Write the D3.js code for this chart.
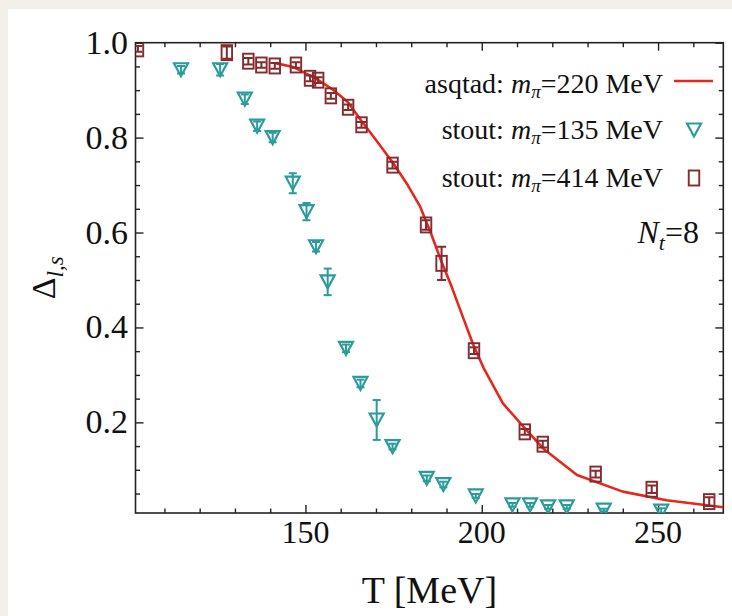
<!DOCTYPE html>
<html><head><meta charset="utf-8">
<script src="https://cdn.jsdelivr.net/npm/d3@7"></script>
<style>
html,body{margin:0;padding:0;background:#f3f0ea;}
svg{display:block;}
</style></head>
<body>
<svg id="chart" width="732" height="616"></svg>
<script>
// ---- data ----
const asqtadT = [141.5,146.5,153.5,158,162,166,170,175,179,182.5,185.5,188.5,191.5,194.5,197.5,200.5,206,211.8,217.4,227,240,252.4,268.5];
const asqtadV = [0.957,0.949,0.922,0.900,0.875,0.834,0.795,0.745,0.70,0.655,0.60,0.54,0.485,0.425,0.365,0.315,0.240,0.191,0.145,0.089,0.054,0.036,0.021];

const stout135T   = [114.7,125.8,132.8,136.3,140.7,146.4,150.3,153.0,156.3,161.5,165.6,170.2,174.7,184.4,189.1,198.3,208.7,213.7,218.8,224.1,234.6,250.9];
const stout135V   = [0.943,0.943,0.881,0.824,0.800,0.704,0.644,0.570,0.496,0.356,0.282,0.205,0.149,0.082,0.069,0.045,0.026,0.026,0.022,0.022,0.015,0.013];
const stout135Err = [0.008,0.012,0.010,0.010,0.010,0.021,0.018,0.010,0.028,0.008,0.008,0.042,0.006,0.006,0.006,0.004,0.004,0.004,0.004,0.004,0.003,0.006];

const stout414T   = [102.5,127.7,133.8,137.5,141.3,147.3,151.3,153.6,157.2,162.1,165.9,174.7,184.2,188.6,197.8,212.2,217.3,232.3,248.2,264.5];
const stout414V   = [0.987,0.979,0.961,0.953,0.951,0.953,0.925,0.921,0.888,0.864,0.827,0.742,0.616,0.535,0.351,0.180,0.154,0.091,0.059,0.033];
const stout414Err = [0.006,0.013,0.007,0.006,0.006,0.006,0.006,0.006,0.006,0.006,0.006,0.007,0.010,0.035,0.007,0.006,0.007,0.007,0.008,0.009];

const xTicks = [150,200,250];
const yTicks = [0.2,0.4,0.6,0.8,1.0];
const xMinor = d3.range(110,270,10);
const yMinor = d3.range(0.05,1.0001,0.05);

const legendLabels = [["asqtad: ","220 MeV"],["stout: ","135 MeV"],["stout: ","414 MeV"]];

// ---- layout ----
const W = 732, H = 616;
const L = 135.5, R = 723.3, T = 42.7, B = 513;
const FONT = "'Liberation Serif','Times New Roman',serif";
const RED = "#e5281e", TEAL = "#2a9c9c", MAROON = "#862a2e";

const svg = d3.select("#chart");
svg.append("rect").attr("x",8).attr("y",9).attr("width",W-8).attr("height",H-9).attr("fill","#ffffff");

const x = d3.scaleLinear().domain([101.8,268.5]).range([L,R]);
const y = d3.scaleLinear().domain([0.009,1.0]).range([B,T]);

svg.append("clipPath").attr("id","clip").append("rect")
  .attr("x",L).attr("y",T).attr("width",R-L).attr("height",B-T);

// axes (ticks inward) on all four sides
function mkAxis(axisFn, scale, ticks, size, fmt){
  return axisFn(scale).tickValues(ticks).tickSize(size).tickSizeOuter(0).tickFormat(fmt||"");
}
const gx = svg.append("g").attr("transform",`translate(0,${B})`);
gx.call(mkAxis(d3.axisTop, x, xMinor.filter(v=>!xTicks.includes(v)), 4.5));
const gxM = svg.append("g").attr("transform",`translate(0,${B})`);
gxM.call(mkAxis(d3.axisTop, x, xTicks, 8));
const gxt = svg.append("g").attr("transform",`translate(0,${T})`);
gxt.call(mkAxis(d3.axisBottom, x, xMinor.filter(v=>!xTicks.includes(v)), 4.5));
const gxtM = svg.append("g").attr("transform",`translate(0,${T})`);
gxtM.call(mkAxis(d3.axisBottom, x, xTicks, 8));

const yMinorOnly = yMinor.filter(v=>!yTicks.some(t=>Math.abs(t-v)<1e-6));
const gy = svg.append("g").attr("transform",`translate(${L},0)`);
gy.call(mkAxis(d3.axisRight, y, yMinorOnly, 4.5));
const gyM = svg.append("g").attr("transform",`translate(${L},0)`);
gyM.call(mkAxis(d3.axisRight, y, yTicks, 8));
const gyr = svg.append("g").attr("transform",`translate(${R},0)`);
gyr.call(mkAxis(d3.axisLeft, y, yMinorOnly, 4.5));
const gyrM = svg.append("g").attr("transform",`translate(${R},0)`);
gyrM.call(mkAxis(d3.axisLeft, y, yTicks, 8));

svg.selectAll(".domain").remove();
svg.selectAll(".tick line").attr("stroke","#222").attr("stroke-width",1.4);

// frame
svg.append("rect").attr("x",L).attr("y",T).attr("width",R-L).attr("height",B-T)
  .attr("fill","none").attr("stroke","#222").attr("stroke-width",1.6);

// tick labels
svg.append("g").selectAll("text").data(xTicks).join("text")
  .attr("x",d=>x(d)).attr("y",543).attr("text-anchor","middle")
  .attr("font-family",FONT).attr("font-size",32).attr("fill","#111").text(d=>d);
svg.append("g").selectAll("text").data(yTicks).join("text")
  .attr("x",128).attr("y",d=>y(d)+11).attr("text-anchor","end")
  .attr("font-family",FONT).attr("font-size",34).attr("fill","#111").text(d=>d.toFixed(1));

// axis titles
svg.append("text").attr("x",(L+R)/2).attr("y",603).attr("text-anchor","middle")
  .attr("font-family",FONT).attr("font-size",38).attr("fill","#111").text("T [MeV]");
const yl = svg.append("text").attr("transform",`translate(55,${(T+B)/2}) rotate(-90)`)
  .attr("text-anchor","middle").attr("font-family",FONT).attr("font-size",34).attr("fill","#111");
yl.append("tspan").text("Δ");
yl.append("tspan").attr("font-style","italic").attr("font-size",23).attr("dy",8).text("l,s");

// plot layer
const plot = svg.append("g").attr("clip-path","url(#clip)");

// asqtad line
const asq = asqtadT.map((t,i)=>({t, v:asqtadV[i]}));
plot.append("path").datum(asq)
  .attr("d", d3.line().x(d=>x(d.t)).y(d=>y(d.v)))
  .attr("fill","none").attr("stroke",RED).attr("stroke-width",2.6).attr("stroke-linejoin","round");

// triangle marker helper
const triW = 14, triH = 13;
function triPath(cx, cy){
  return `M${cx-triW/2},${cy-triH/2}L${cx+triW/2},${cy-triH/2}L${cx},${cy+triH/2}Z`;
}
const sqW = 10.5, sqH = 15;

// stout 135 triangles
const s135 = stout135T.map((t,i)=>({t, v:stout135V[i], e:stout135Err[i]}));
const g135 = plot.append("g");
g135.selectAll("path.tri").data(s135).join("path").attr("class","tri")
  .attr("d", d=>triPath(x(d.t), y(d.v)))
  .attr("fill","none").attr("stroke",TEAL).attr("stroke-width",2.2).attr("stroke-linejoin","miter");
g135.selectAll("line.eb").data(s135).join("line").attr("class","eb")
  .attr("x1",d=>x(d.t)).attr("x2",d=>x(d.t))
  .attr("y1",d=>y(d.v+d.e)).attr("y2",d=>y(d.v-d.e))
  .attr("stroke",TEAL).attr("stroke-width",2);
["+","-"].forEach(s=>{
  g135.selectAll("line.cap"+(s==="+"?"u":"d")).data(s135).join("line").attr("class","cap"+(s==="+"?"u":"d"))
    .attr("x1",d=>x(d.t)-4).attr("x2",d=>x(d.t)+4)
    .attr("y1",d=>y(s==="+"?d.v+d.e:d.v-d.e)).attr("y2",d=>y(s==="+"?d.v+d.e:d.v-d.e))
    .attr("stroke",TEAL).attr("stroke-width",2);
});

// stout 414 squares
const s414 = stout414T.map((t,i)=>({t, v:stout414V[i], e:stout414Err[i]}));
const g414 = plot.append("g");
g414.selectAll("rect").data(s414).join("rect")
  .attr("x",d=>x(d.t)-sqW/2).attr("y",d=>y(d.v)-sqH/2)
  .attr("width",sqW).attr("height",sqH)
  .attr("fill","none").attr("stroke",MAROON).attr("stroke-width",1.9);
g414.selectAll("line.eb").data(s414).join("line").attr("class","eb")
  .attr("x1",d=>x(d.t)).attr("x2",d=>x(d.t))
  .attr("y1",d=>y(d.v+d.e)).attr("y2",d=>y(d.v-d.e))
  .attr("stroke",MAROON).attr("stroke-width",2);
["u","d"].forEach(s=>{
  g414.selectAll("line.cap"+s).data(s414).join("line").attr("class","cap"+s)
    .attr("x1",d=>x(d.t)-4.5).attr("x2",d=>x(d.t)+4.5)
    .attr("y1",d=>y(s==="u"?d.v+d.e:d.v-d.e)).attr("y2",d=>y(s==="u"?d.v+d.e:d.v-d.e))
    .attr("stroke",MAROON).attr("stroke-width",2);
});

// legend
const legY = [93,139,187];
legendLabels.forEach((lab,i)=>{
  const t = svg.append("text").attr("x",663).attr("y",legY[i]).attr("text-anchor","end")
    .attr("font-family",FONT).attr("font-size",28).attr("fill","#111");
  t.append("tspan").text(lab[0]);
  t.append("tspan").attr("font-style","italic").text("m");
  t.append("tspan").attr("font-style","italic").attr("font-size",19).attr("dy",5).text("π");
  t.append("tspan").attr("dy",-5).text("=" + lab[1]);
});
svg.append("line").attr("x1",674).attr("x2",713).attr("y1",81).attr("y2",81)
  .attr("stroke",RED).attr("stroke-width",2.6);
svg.append("path").attr("d",triPath(694,130)).attr("fill","none").attr("stroke",TEAL).attr("stroke-width",2.2);
svg.append("rect").attr("x",694-sqW/2).attr("y",178-sqH/2).attr("width",sqW).attr("height",sqH)
  .attr("fill","none").attr("stroke",MAROON).attr("stroke-width",1.9);

// N_t label
const nt = svg.append("text").attr("x",699).attr("y",243).attr("text-anchor","end")
  .attr("font-family",FONT).attr("font-size",32).attr("fill","#111");
nt.append("tspan").attr("font-style","italic").text("N");
nt.append("tspan").attr("font-style","italic").attr("font-size",22).attr("dy",7).text("t");
nt.append("tspan").attr("dy",-7).text("=8");
</script>
</body></html>
